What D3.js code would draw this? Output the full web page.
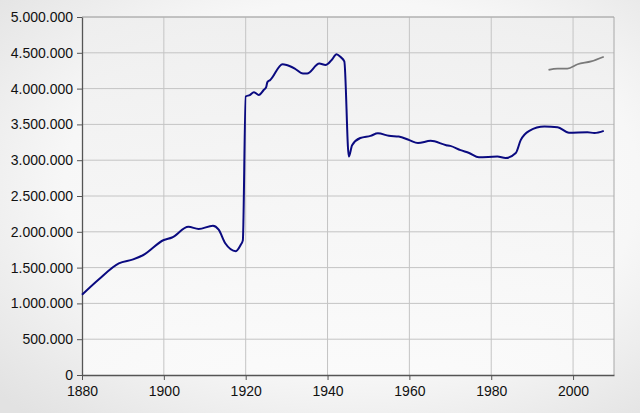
<!DOCTYPE html>
<html><head><meta charset="utf-8">
<script src="https://cdn.jsdelivr.net/npm/d3@7"></script>
<style>html,body{margin:0;padding:0;background:#fff}svg{display:block}</style>
</head><body>
<script>
const years = [1880,1884,1889,1892.5,1895,1900,1902,1906,1908.5,1912,1913.4,1915,1917.6,1918.8,1919.3,1920,1921,1922,1923.2,1924.4,1925,1925.3,1926,1929,1930,1932,1934,1935,1938,1939.5,1941,1942.2,1943.2,1944.1,1945.2,1946,1948,1950.5,1952.3,1955,1957.4,1960,1962.1,1965.2,1969,1970,1972.5,1974.6,1977,1981.5,1983.5,1986,1987.2,1989.3,1993,1996.2,1999,2003.5,2005.2,2007.5];
const population = [1120000,1330000,1560000,1615000,1676000,1885000,1920000,2070000,2040000,2085000,2030000,1840000,1730000,1820000,1880000,3890000,3910000,3950000,3910000,3980000,4020000,4090000,4120000,4340000,4330000,4280000,4210000,4210000,4350000,4330000,4400000,4480000,4440000,4380000,3050000,3210000,3310000,3340000,3375000,3340000,3330000,3280000,3240000,3270000,3210000,3200000,3140000,3100000,3040000,3050000,3030000,3100000,3280000,3410000,3470000,3460000,3385000,3390000,3380000,3410000];
const metroYears = [1994,1996.2,1998.6,2001.1,2004.4,2007.5];
const metroPopulation = [4260000,4280000,4280000,4340000,4380000,4445000];
const xTicks = [1880,1900,1920,1940,1960,1980,2000];
const yTicks = [0,500000,1000000,1500000,2000000,2500000,3000000,3500000,4000000,4500000,5000000];

const W = 640, H = 413;
const m = {left:82, right:W-614, top:17, bottom:H-375};
const svg = d3.select("body").append("svg").attr("width",W).attr("height",H);
const defs = svg.append("defs");
const bg = defs.append("radialGradient").attr("id","bg").attr("cx","55%").attr("cy","45%").attr("r","75%");
bg.append("stop").attr("offset","0%").attr("stop-color","#ffffff");
bg.append("stop").attr("offset","60%").attr("stop-color","#f7f7f7");
bg.append("stop").attr("offset","100%").attr("stop-color","#e2e2e2");
const pg = defs.append("linearGradient").attr("id","pg").attr("x1","0").attr("y1","0").attr("x2","0").attr("y2","1");
pg.append("stop").attr("offset","0%").attr("stop-color","#eeeeee");
pg.append("stop").attr("offset","100%").attr("stop-color","#fbfbfb");
svg.append("rect").attr("width",W).attr("height",H).attr("fill","url(#bg)");

const x = d3.scaleLinear().domain([1880,2010]).range([m.left, W-m.right]);
const y = d3.scaleLinear().domain([0,5000000]).range([H-m.bottom, m.top]);

svg.append("rect").attr("x",x(1880)).attr("y",y(5000000)).attr("width",x(2010)-x(1880)).attr("height",y(0)-y(5000000)).attr("fill","url(#pg)").attr("opacity",0.85);

const g = svg.append("g");
g.selectAll(".hg").data(yTicks.slice(1)).enter().append("line")
 .attr("x1",x(1880)).attr("x2",x(2010)).attr("y1",d=>y(d)).attr("y2",d=>y(d))
 .attr("stroke","#c4c4c4").attr("stroke-width",1);
g.selectAll(".vg").data(xTicks.slice(1)).enter().append("line")
 .attr("x1",d=>x(d)).attr("x2",d=>x(d)).attr("y1",y(0)).attr("y2",y(5000000))
 .attr("stroke","#c4c4c4").attr("stroke-width",1);
// right border
g.append("line").attr("x1",x(2010)).attr("x2",x(2010)).attr("y1",y(0)).attr("y2",y(5000000)).attr("stroke","#a8a8a8");
g.append("line").attr("x1",x(1880)).attr("x2",x(2010)).attr("y1",y(5000000)).attr("y2",y(5000000)).attr("stroke","#a8a8a8");

const fmt = d => d3.format(",")(d).replace(/,/g,".");
const yAxis = svg.append("g").attr("transform",`translate(${x(1880)},0)`)
 .call(d3.axisLeft(y).tickValues(yTicks).tickFormat(fmt).tickSize(5).tickSizeOuter(0));
const xAxis = svg.append("g").attr("transform",`translate(0,${y(0)})`)
 .call(d3.axisBottom(x).tickValues(xTicks).tickFormat(d3.format("d")).tickSize(5).tickSizeOuter(0));
[yAxis,xAxis].forEach(a=>{
  a.selectAll("path.domain").attr("stroke","#555").attr("stroke-width",1.3);
  a.selectAll(".tick line").attr("stroke","#555");
  a.selectAll("text").attr("font-family","Liberation Sans, Arial, sans-serif").attr("font-size",14).attr("fill","#111");
});
yAxis.selectAll("text").attr("x",-9);
xAxis.selectAll("text").attr("y",11);

const line = d3.line().x(d=>x(d[0])).y(d=>y(d[1])).curve(d3.curveMonotoneX);
svg.append("path").datum(years.map((d,i)=>[d,population[i]]))
 .attr("d",line).attr("fill","none").attr("stroke","#0a0a80").attr("stroke-width",2).attr("stroke-linejoin","round");
svg.append("path").datum(metroYears.map((d,i)=>[d,metroPopulation[i]]))
 .attr("d",line).attr("fill","none").attr("stroke","#7a7a7a").attr("stroke-width",1.8);
</script>
</body></html>
